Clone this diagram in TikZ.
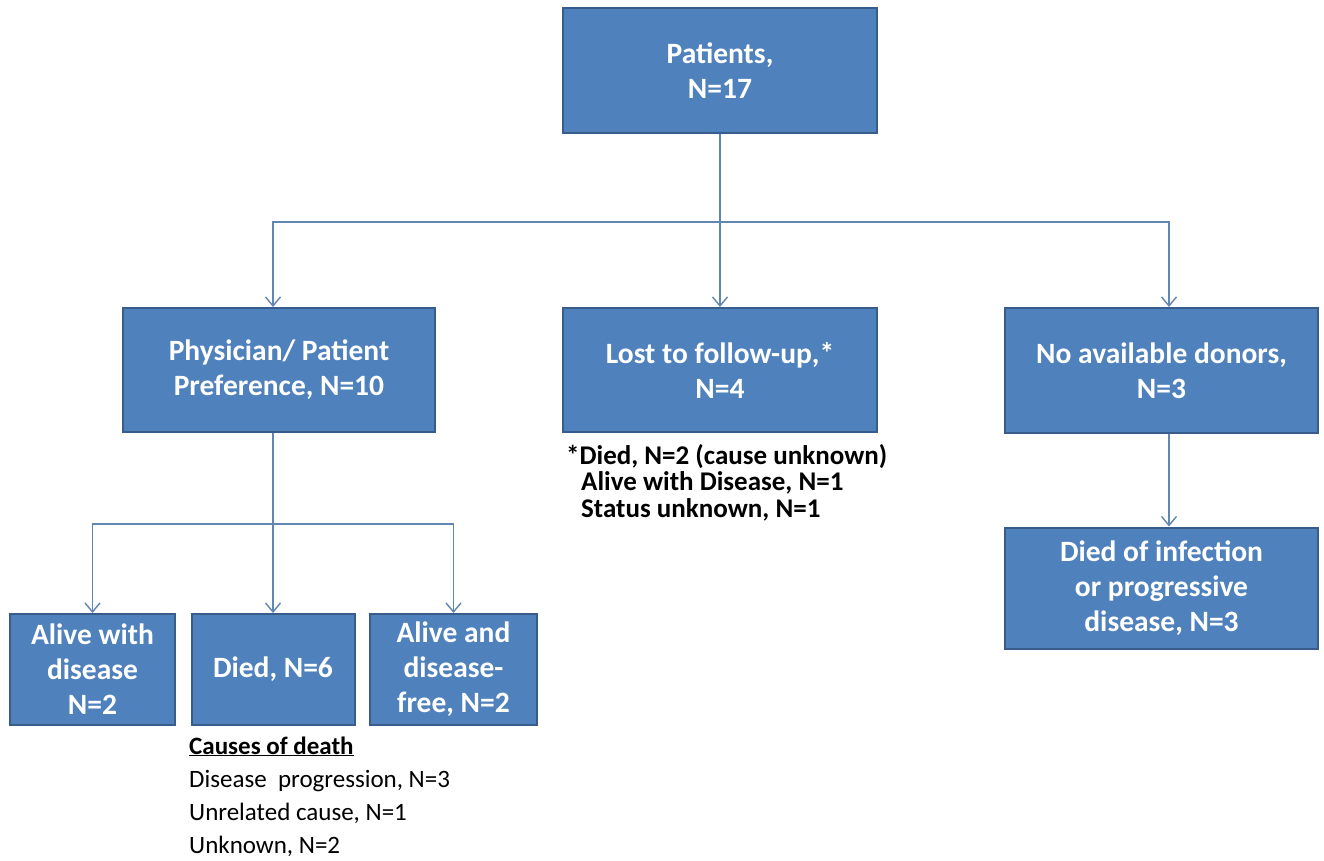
\documentclass[tikz,border=0pt]{standalone}
\usepackage{fontspec}
\setmainfont{Carlito}
\usetikzlibrary{arrows.meta}
\definecolor{boxblue}{RGB}{79,129,189}
\definecolor{boxline}{RGB}{56,93,138}
\definecolor{linkblue}{RGB}{96,134,178}
\tikzset{
  box/.style={draw=boxline, fill=boxblue, line width=2pt, text=white, align=center,
    font=\fontsize{29.5}{35}\selectfont\bfseries, inner sep=0pt},
  link/.style={draw=linkblue, line width=1.4pt},
  tip/.style={-{Straight Barb[length=9pt,width=15pt]}},
  note/.style={anchor=base west, align=left, inner sep=0pt},
}
\begin{document}
\begin{tikzpicture}[x=1pt,y=-1pt]
                \fill[white] (0,0) rectangle (1324,860);
                \node[box, minimum width=314pt, minimum height=125pt] (pat) at (720,70.5) {Patients,\\N=17};
                \node[box, minimum width=312pt, minimum height=124pt] (phys) at (279,370) {Physician/ Patient\\Preference, N=10};
                \node[box, minimum width=314pt, minimum height=124pt] (lost) at (720,370) {Lost to follow-up,*\\N=4};
                \node[box, minimum width=313pt, minimum height=125pt] (donors) at (1161.5,370.5) {No available donors,\\N=3};
                \node[box, minimum width=313pt, minimum height=121pt] (infect) at (1161.5,588) {Died of infection\\or progressive\\disease, N=3};
                \node[box, minimum width=165pt, minimum height=111pt] (alive1) at (92.5,669.5) {Alive with\\disease\\N=2};
                \node[box, minimum width=163pt, minimum height=111pt] (died6) at (273,669.5) {Died, N=6};
                \node[box, minimum width=167pt, minimum height=111pt] (alive2) at (453.5,669.5) {Alive and\\disease-\\free, N=2};

                % notes: base anchor sits on the last line
                \node[note, font=\fontsize{27}{26.5}\selectfont\bfseries] (lostnote) at (566,517) {*Died, N=2 (cause unknown)\\\hspace*{15pt}Alive with Disease, N=1\\\hspace*{15pt}Status unknown, N=1};
                \node[note, font=\fontsize{25}{33}\selectfont] (causes) at (189,853) {\textbf{\underline{Causes of death}}\\Disease\ \ progression, N=3\\Unrelated cause, N=1\\Unknown, N=2};

                \coordinate (split) at (720,222);
                \coordinate (split2) at (273,524);

                \draw[link,tip] (pat) to (lost); \draw[link,tip] (split) -| ([xshift=-6pt]phys.north); \draw[link,tip] (split) -| ([xshift=7.5pt]donors.north);
                \draw[link,tip] ([xshift=-6pt]phys.south) to (died6); \draw[link,tip] (split2) -| (alive1.north); \draw[link,tip] (split2) -| (alive2.north);
                \draw[link,tip] ([xshift=7.5pt]donors.south) to ([xshift=7.5pt]infect.north);
\end{tikzpicture}
\end{document}
